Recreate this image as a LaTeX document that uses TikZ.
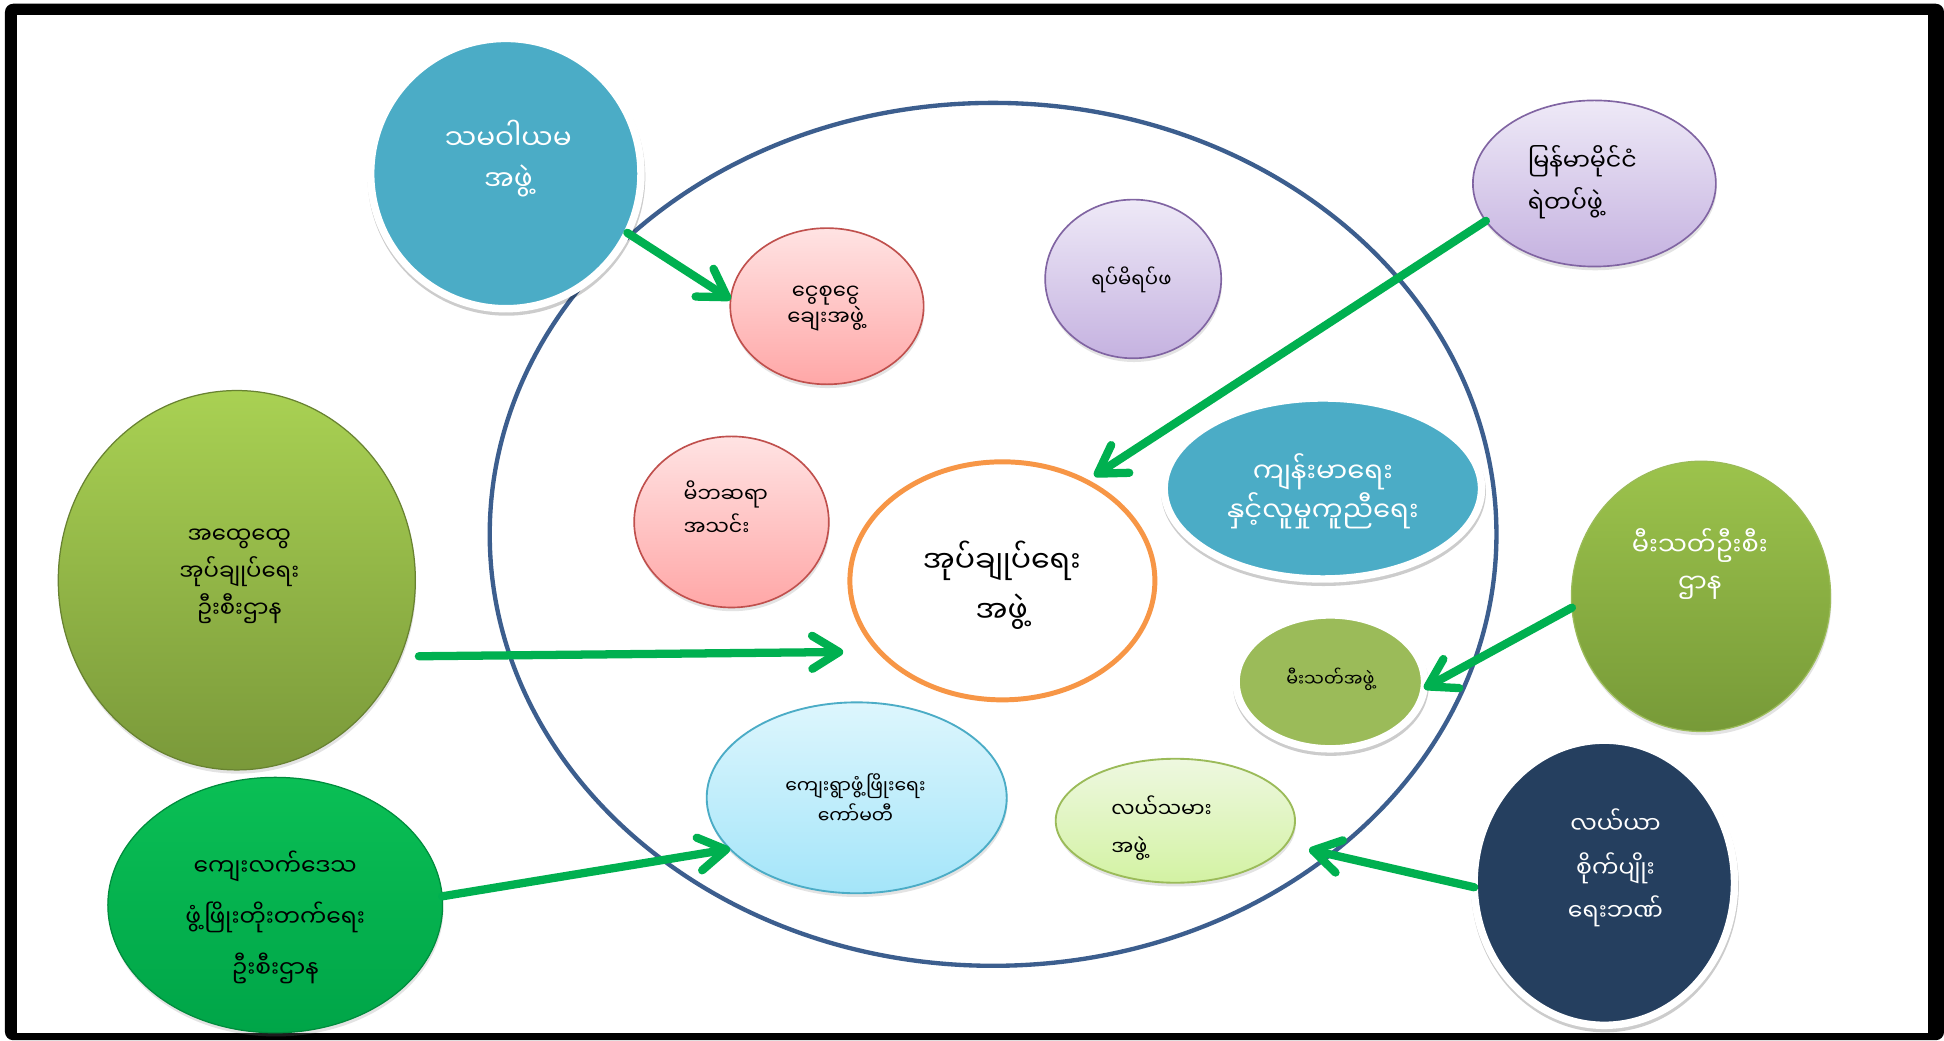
\documentclass[tikz,border=0pt]{standalone}
\usepackage{fontspec}
\newfontfamily\mymm[Script=Myanmar]{Noto Sans Myanmar UI}
\newcommand\mmf[2]{\mymm\fontsize{#1}{#2}\selectfont\lineskiplimit=-100pt\relax}
\usetikzlibrary{shapes.geometric,arrows.meta,shadows}
\definecolor{cTeal}{HTML}{4BACC6}
\definecolor{cNavyL}{HTML}{3C5E8E}
\definecolor{cNavyF}{HTML}{253F5F}
\definecolor{cArrow}{HTML}{00B050}
\definecolor{cOrange}{HTML}{F79646}
\definecolor{cRedB}{HTML}{C0504D}
\definecolor{cPinkT}{HTML}{FFE3E3}
\definecolor{cPinkB}{HTML}{FFA7A7}
\definecolor{cPurB}{HTML}{8064A2}
\definecolor{cLavT}{HTML}{EEE9F7}
\definecolor{cLavB}{HTML}{C5B2E0}
\definecolor{cBlueT}{HTML}{DDF6FD}
\definecolor{cBlueB}{HTML}{A4E5F9}
\definecolor{cLGreenT}{HTML}{EEF8E0}
\definecolor{cLGreenB}{HTML}{D3F2A3}
\definecolor{cGreenB}{HTML}{9BBB59}
\definecolor{cOliveT}{HTML}{A9D153}
\definecolor{cOliveB}{HTML}{7A993A}
\definecolor{cFireT}{HTML}{9CC34C}
\definecolor{cFireB}{HTML}{779A38}
\definecolor{cRuralT}{HTML}{0ABF55}
\definecolor{cRuralB}{HTML}{00A548}
\begin{document}
\begin{tikzpicture}[x=0.6pt,y=-0.6pt,
  shp/.style={ellipse, inner sep=0pt, outer sep=0pt},
  sz/.style 2 args={minimum width=#1*0.6pt, minimum height=#2*0.6pt},
  wborder/.style={draw=white, line width=3.6pt},
  shd/.style={drop shadow={opacity=0.22, shadow xshift=0.4pt, shadow yshift=-1.8pt}},
  wshd/.style={drop shadow={opacity=0.2, shadow xshift=0.3pt, shadow yshift=-1.6pt, draw=black, line width=3.6pt}},
  txt/.style={inner sep=0pt, align=center},
  arr/.style={draw=cArrow, line width=4pt, line cap=round, -{Straight Barb[length=13pt,width=16pt,round]}}
]
\useasboundingbox (0,0) rectangle (1568,839);
\fill[white] (0,0) rectangle (1568,839);
\fill[black, rounded corners=4pt] (4,3) rectangle (1568,839);
\fill[white] (13.5,12.5) rectangle (1555,833.5);

\node[shp, draw=cNavyL, line width=2.1pt, sz={812}{696}] (big) at (801,431) {};

\node[shp, sz={218}{218}, fill=cTeal, wborder, wshd] (coop) at (408,140) {};
\node[txt, text=white, font=\mmf{13.5}{20}] (tcoop) at (410,128) {သမဝါယမ\\အဖွဲ့};

\node[shp, sz={156}{126}, top color=cPinkT, bottom color=cPinkB, draw=cRedB, line width=0.8pt, shd] (ngwe) at (667,247) {};
\node[txt, font=\mmf{10.2}{12.5}] (tngwe) at (666,249) {ငွေစုငွေ\\ချေးအဖွဲ့};

\node[shp, sz={142}{128}, top color=cLavT, bottom color=cLavB, draw=cPurB, line width=0.8pt, shd] (yat) at (914,225) {};
\node[txt, font=\mmf{9.5}{12}] (tyat) at (912.6,225.8) {ရပ်မိရပ်ဖ};

\node[shp, sz={196}{134}, top color=cLavT, bottom color=cLavB, draw=cPurB, line width=0.8pt, shd] (police) at (1286,148) {};
\node[txt, align=left, anchor=west, font=\mmf{11.5}{20}] (tpolice) at (1232,147) {မြန်မာမိုင်ငံ\\ရဲတပ်ဖွဲ့};

\node[shp, sz={157}{138}, top color=cPinkT, bottom color=cPinkB, draw=cRedB, line width=0.8pt, shd] (mithba) at (590,421) {};
\node[txt, align=left, anchor=west, font=\mmf{10}{16}] (tmithba) at (551,410) {မိဘဆရာ\\အသင်း};

\node[shp, sz={246}{192}, fill=white, draw=cOrange, line width=2.4pt] (central) at (808.5,468.5) {};
\node[txt, font=\mmf{14.5}{24}] (tcentral) at (808,472) {အုပ်ချုပ်ရေး\\အဖွဲ့};

\node[shp, sz={256}{146}, fill=cTeal, wborder, wshd] (health) at (1067,394) {};
\node[txt, text=white, font=\mmf{13.3}{19}] (thealth) at (1067,396) {ကျန်းမာရေး\\နှင့်လူမှုကူညီရေး};

\node[shp, sz={209}{218}, top color=cFireT, bottom color=cFireB, draw=cGreenB, line width=0.6pt, shd] (firedept) at (1372,481) {};
\node[txt, text=white, font=\mmf{12.4}{18}] (tfiredept) at (1371,455) {မီးသတ်ဦးစီး\\ဌာန};

\node[shp, sz={152}{108}, fill=cGreenB, wborder, wshd] (fire) at (1073,550) {};
\node[txt, font=\mmf{8.5}{11}] (tfire) at (1073,548) {မီးသတ်အဖွဲ့};

\node[shp, sz={193}{100}, top color=cLGreenT, bottom color=cLGreenB, draw=cGreenB, line width=0.9pt, shd] (farmers) at (948,662) {};
\node[txt, align=left, anchor=west, font=\mmf{10}{18.6}] (tfarmers) at (896,668) {လယ်သမား\\အဖွဲ့};

\node[shp, sz={210}{230}, fill=cNavyF, wborder, wshd] (bank) at (1294,712) {};
\node[txt, text=white, font=\mmf{11.4}{21}] (tbank) at (1303,700) {လယ်ယာ\\စိုက်ပျိုး\\ရေးဘဏ်};

\node[shp, sz={242}{154}, top color=cBlueT, bottom color=cBlueB, draw=cTeal, line width=0.9pt, shd] (village) at (691,643.5) {};
\node[txt, font=\mmf{9.1}{14.4}] (tvillage) at (690,644) {ကျေးရွာဖွံ့ဖြိုးရေး\\ကော်မတီ};

\node[shp, sz={288}{306}, top color=cOliveT, bottom color=cOliveB, draw=cOliveB!85!black, line width=0.6pt, shd] (general) at (191,468) {};
\node[txt, font=\mmf{11}{18}] (tgeneral) at (193,465) {အထွေထွေ\\အုပ်ချုပ်ရေး\\ဦးစီးဌာန};

\node[shp, sz={270}{206}, top color=cRuralT, bottom color=cRuralB, draw=cRuralB!85!black, line width=0.6pt, shd] (rural) at (222,730) {};
\node[txt, font=\mmf{11.3}{24.6}] (trural) at (222,740) {ကျေးလက်ဒေသ\\ဖွံ့ဖြိုးတိုးတက်ရေး\\ဦးစီးဌာန};

\draw[arr] (coop.-26) -- (ngwe.176);
\draw[arr, shorten >=4.8pt] (police.199) -- (central.50);
\draw[arr, shorten <=9pt, shorten >=17.7pt] (general.-25) -- (central.210);
\draw[arr] (firedept.185) -- (fire.-4);
\draw[arr, shorten >=11.4pt] (bank.182) -- (farmers.-12);
\draw[arr] (rural.3) -- (village.202);
\end{tikzpicture}
\end{document}
